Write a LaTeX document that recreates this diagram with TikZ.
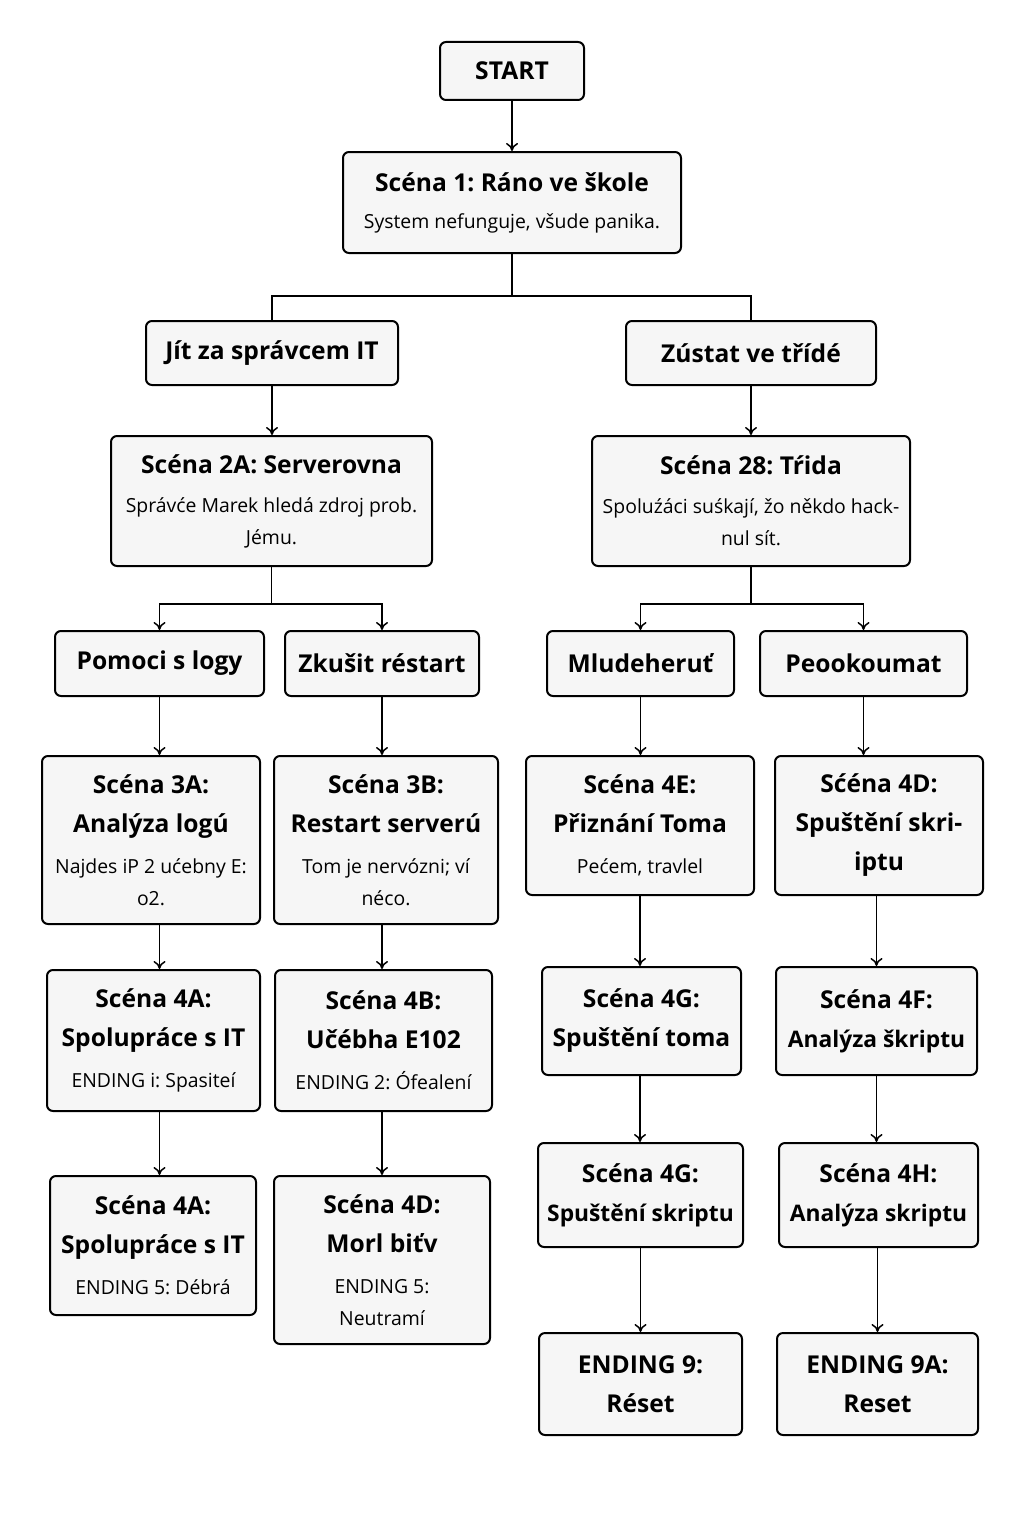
\documentclass[tikz,border=0pt]{standalone}
\usepackage{fontspec}
\setmainfont{Open Sans}
\usetikzlibrary{arrows.meta}
\definecolor{boxfill}{HTML}{F6F6F6}
\newcommand\ttl{\fontsize{12.3}{16}\selectfont\bfseries}
\newcommand\ttn{\fontsize{11.4}{16}\selectfont\bfseries}
\newcommand\bdy{\fontsize{9.7}{16}\selectfont\mdseries}

\begin{document}
\frenchspacing
\begin{tikzpicture}[x=0.5pt,y=-0.5pt,
  box/.style={draw=black,line width=1pt,rounded corners=3pt,fill=boxfill,
    align=center,inner sep=0pt,font=\fontsize{9.7}{16}\selectfont},
  link/.style={line width=0.75pt},
  >={To[length=4pt,width=6pt]}]
\useasboundingbox[fill=white] (0,0) rectangle (1024,1536);

\node[box,minimum width=72pt,minimum height=29pt] (start) at (512,71) {\ttl START};
\node[box,minimum width=169pt,minimum height=50.5pt] (s1) at (512,202.5) {\ttl Scéna 1: Ráno ve škole\\[2.5pt]\bdy System nefunguje, všude panika.};
\node[box,minimum width=126pt,minimum height=32pt] (jit) at (272,353) {\ttl Jít za správcem IT};
\node[box,minimum width=125pt,minimum height=32pt] (zus) at (751,353) {\ttl Zústat ve třídé};
\node[box,minimum width=160.5pt,minimum height=65pt] (s2a) at (271.5,501) {\ttl Scéna 2A: Serverovna\\[3.5pt]\bdy Správće Marek hledá zdroj prob.\\\bdy Jému.};
\node[box,minimum width=159pt,minimum height=65pt] (s2b) at (751,501) {\ttl Scéna 28: Tŕida\\[3.5pt]\bdy Spoluźáci suśkají, žo někdo hack-\\\bdy nul sít.};

\node[box,minimum width=104.5pt,minimum height=32.5pt] (pom) at (159.5,663.5) {\ttl Pomoci s logy};
\node[box,minimum width=97pt,minimum height=32.5pt] (zku) at (382,663.5) {\ttl Zkušit réstart};
\node[box,minimum width=93.5pt,minimum height=32.5pt] (mlu) at (640.5,663.5) {\ttl Mludeheruť};
\node[box,minimum width=103.5pt,minimum height=32.5pt] (peo) at (863.5,663.5) {\ttl Peookoumat};

\node[box,minimum width=109pt,minimum height=84pt] (s3a) at (151,840) {\ttl Scéna 3A:\\[3.5pt]\ttl Analýza logú\\[4.5pt]\bdy Najdes iP 2 ućebny E:\\\bdy o2.};
\node[box,minimum width=112pt,minimum height=84pt] (s3b) at (386,840) {\ttl Scéna 3B:\\[3.5pt]\ttl Restart serverú\\[4.5pt]\bdy Tom je nervózni; ví\\\bdy néco.};
\node[box,minimum width=114pt,minimum height=69.5pt] (s4e) at (640,825.5) {\ttl Scéna 4E:\\[3.5pt]\ttl Přiznání Toma\\[4.5pt]\bdy Pećem, travlel};
\node[box,minimum width=104pt,minimum height=69.5pt] (s4d) at (879,825.5) {\ttl Sćéna 4D:\\[3.5pt]\ttl Spuštění skri-\\[3.5pt]\ttl iptu};

\node[box,minimum width=106.5pt,minimum height=70.5pt] (s4a) at (153.5,1040.5) {\ttl Scéna 4A:\\[3.5pt]\ttl Spolupráce s IT\\[4.5pt]\bdy ENDING i: Spasiteí};
\node[box,minimum width=108.5pt,minimum height=70.5pt] (s4b) at (383.5,1040.5) {\ttl Scéna 4B:\\[3.5pt]\ttl Učébha E102\\[4.5pt]\bdy ENDING 2: Ófealení};
\node[box,minimum width=99.5pt,minimum height=54pt] (s4g) at (641.5,1021) {\ttl Scéna 4G:\\[3.5pt]\ttl Spuštění toma};
\node[box,minimum width=100.5pt,minimum height=54pt] (s4f) at (876.5,1021) {\ttl Scéna 4F:\\[3.5pt]\ttn Analýza škriptu};

\node[box,minimum width=103pt,minimum height=69.5pt] (s4aa) at (153,1245.5) {\ttl Scéna 4A:\\[3.5pt]\ttl Spolupráce s IT\\[4.5pt]\bdy ENDING 5: Débrá};
\node[box,minimum width=108pt,minimum height=84pt] (s4dd) at (382,1260) {\ttl Scéna 4D:\\[3.5pt]\ttl Morl biťv\\[4.5pt]\bdy ENDING 5:\\\bdy Neutramí};
\node[box,minimum width=102.5pt,minimum height=52pt] (s4gg) at (640.5,1195) {\ttl Scéna 4G:\\[3.5pt]\ttn Spuštění skriptu};
\node[box,minimum width=99.5pt,minimum height=52pt] (s4h) at (878.5,1195) {\ttl Scéna 4H:\\[3.5pt]\ttn Analýza skriptu};

\node[box,minimum width=101.5pt,minimum height=51pt] (end9) at (640.5,1384) {\ttl ENDING 9:\\[3.5pt]\ttl Réset};
\node[box,minimum width=100.5pt,minimum height=51pt] (end9a) at (877.5,1384) {\ttl ENDING 9A:\\[3.5pt]\ttl Reset};

\coordinate (j1) at (512,296);
\coordinate (j2) at (271.5,604);
\coordinate (j3) at (751,604);

\draw[link,->] (start) -- (s1);
\draw[link] (s1.south) -- (j1) (jit.north) |- (j1) -| (zus.north);
\draw[link,->] (jit.south) -- (jit.south |- s2a.north);
\draw[link,->] (zus.south) -- (zus.south |- s2b.north);
\draw[link,->] (s2a.south) -- (j2) -| (pom.north);
\draw[link,->] (j2) -| (zku.north);
\draw[link,->] (s2b.south) -- (j3) -| (mlu.north);
\draw[link,->] (j3) -| (peo.north);

\draw[link,->] (pom.south) -- (pom.south |- s3a.north);
\draw[link,->] (zku.south) -- (zku.south |- s3b.north);
\draw[link,->] (mlu.south) -- (mlu.south |- s4e.north);
\draw[link,->] (peo.south) -- (peo.south |- s4d.north);

\draw[link,->] (pom.south |- s3a.south) -- (pom.south |- s4a.north);
\draw[link,->] (zku.south |- s3b.south) -- (zku.south |- s4b.north);
\draw[link,->] (s4e.south) -- (s4e.south |- s4g.north);
\draw[link,->] (s4f.north |- s4d.south) -- (s4f.north);

\draw[link,->] (pom.south |- s4a.south) -- (pom.south |- s4aa.north);
\draw[link,->] (zku.south |- s4b.south) -- (zku.south |- s4dd.north);
\draw[link,->] (s4e.south |- s4g.south) -- (s4e.south |- s4gg.north);
\draw[link,->] (s4f.south) -- (s4f.south |- s4h.north);

\draw[link,->] (s4gg.south) -- (s4gg.south |- end9.north);
\draw[link,->] (end9a.north |- s4h.south) -- (end9a.north);
\end{tikzpicture}
\end{document}
